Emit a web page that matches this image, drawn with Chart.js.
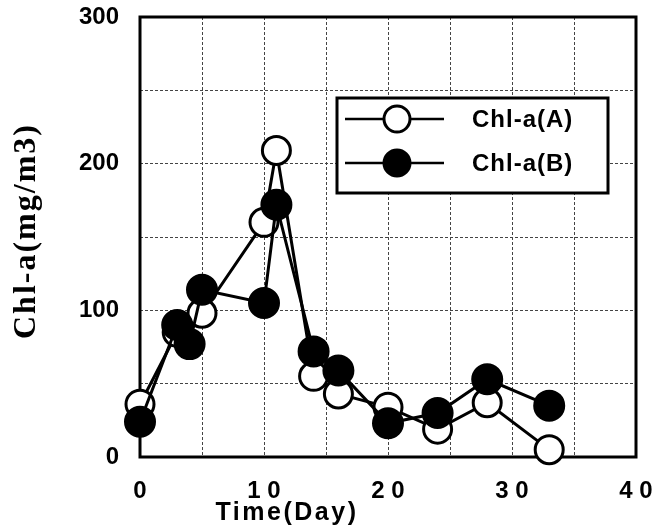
<!DOCTYPE html>
<html>
<head>
<meta charset="utf-8">
<script src="https://cdn.jsdelivr.net/npm/chart.js@4.4.1/dist/chart.umd.min.js"></script>
<style>
  body { margin: 0; background: #fff; }
  canvas { display: block; }
</style>
</head>
<body>
<canvas id="chl" width="653" height="526"></canvas>
<script>
// values
const daysA = [0, 3, 5, 10, 11, 14, 16, 20, 24, 28, 33];
const chlA  = [36, 85, 98, 160, 209, 55, 43, 34, 19, 37, 5];
const daysB = [0, 3, 4, 5, 10, 11, 14, 16, 20, 24, 28, 33];
const chlB  = [24, 90, 77, 114, 105, 172, 72, 59, 23, 30, 53, 35];
const seriesNames = ["Chl-a(A)", "Chl-a(B)"];
const xTickLabels = {0: "0", 10: "1 0", 20: "2 0", 30: "3 0", 40: "4 0"};
const yTickLabels = {0: "0", 100: "100", 200: "200", 300: "300"};
const xTitle = "Time(Day)";
const yTitle = "Chl-a(mg/m3)";

const pts = (xs, ys) => xs.map((x, i) => ({x: x, y: ys[i]}));

// frame round the plot, drawn under the data
const frame = {
  id: "frame",
  beforeDatasetsDraw(chart) {
    const a = chart.chartArea, ctx = chart.ctx;
    ctx.save();
    ctx.strokeStyle = "#000";
    ctx.lineWidth = 3;
    ctx.strokeRect(a.left, a.top, a.right - a.left, a.bottom - a.top);
    ctx.restore();
  }
};

// legend box inside the plot + axis titles
const extras = {
  id: "extras",
  afterDraw(chart) {
    const ctx = chart.ctx;
    ctx.save();
    ctx.fillStyle = "#fff";
    ctx.fillRect(337, 98, 271, 95);
    ctx.strokeStyle = "#000";
    ctx.lineWidth = 3;
    ctx.strokeRect(337, 98, 271, 95);
    seriesNames.forEach((name, i) => {
      const ds = chart.data.datasets.find(d => d.label === name);
      const y = 119 + i * 44;
      ctx.beginPath();
      ctx.moveTo(345, y);
      ctx.lineTo(444, y);
      ctx.lineWidth = 2.5;
      ctx.strokeStyle = "#000";
      ctx.stroke();
      ctx.beginPath();
      ctx.arc(397, y, 13, 0, Math.PI * 2);
      ctx.fillStyle = ds.pointBackgroundColor;
      ctx.fill();
      ctx.lineWidth = 3;
      ctx.stroke();
      ctx.fillStyle = "#000";
      ctx.font = "bold 24px 'Liberation Sans', Arial, sans-serif";
      ctx.letterSpacing = "1px";
      ctx.textBaseline = "middle";
      ctx.textAlign = "left";
      ctx.fillText(name, 472, y + 1);
      ctx.letterSpacing = "0px";
    });
    // x title
    ctx.font = "bold 25px 'Liberation Sans', Arial, sans-serif";
    ctx.letterSpacing = "2.5px";
    ctx.textAlign = "center";
    ctx.textBaseline = "alphabetic";
    ctx.fillText(xTitle, 287, 520);
    // y title
    ctx.translate(27, 231);
    ctx.rotate(-Math.PI / 2);
    ctx.font = "bold 32px 'Liberation Serif', 'Times New Roman', serif";
    ctx.letterSpacing = "2px";
    ctx.textBaseline = "middle";
    ctx.fillText(yTitle, 0, 0);
    ctx.restore();
  }
};

new Chart(document.getElementById("chl"), {
  type: "scatter",
  data: {
    datasets: [
      {
        label: seriesNames[1],
        data: pts(daysB, chlB),
        showLine: true,
        borderColor: "#000",
        borderWidth: 3,
        pointRadius: 15,
        pointBorderWidth: 2,
        pointBackgroundColor: "#000",
        pointBorderColor: "#000",
        clip: false,
        order: 1
      },
      {
        label: seriesNames[0],
        data: pts(daysA, chlA),
        showLine: true,
        borderColor: "#000",
        borderWidth: 3,
        pointRadius: 14,
        pointBorderWidth: 3,
        pointBackgroundColor: "#fff",
        pointBorderColor: "#000",
        clip: false,
        order: 2
      }
    ]
  },
  options: {
    responsive: false,
    animation: false,
    layout: { padding: { left: 0, top: 17, right: 16, bottom: 0 } },
    plugins: { legend: { display: false }, tooltip: { enabled: false } },
    scales: {
      x: {
        type: "linear",
        min: 0, max: 40,
        afterFit(s) { s.height = 69; s.paddingLeft = 0; s.paddingRight = 0; },
        border: { display: false, dash: [3, 2] },
        grid: { color: "#444", lineWidth: 1, drawTicks: false },
        ticks: {
          stepSize: 5,
          padding: 20,
          color: "#000",
          maxRotation: 0,
          font: { family: "'Liberation Sans', Arial, sans-serif", size: 24, weight: "bold" },
          callback: v => xTickLabels[v] !== undefined ? xTickLabels[v] : ""
        }
      },
      y: {
        min: 0, max: 300,
        afterFit(s) { s.width = 140; s.paddingTop = 0; s.paddingBottom = 0; },
        border: { display: false, dash: [3, 2] },
        grid: { color: "#444", lineWidth: 1, drawTicks: false },
        ticks: {
          stepSize: 50,
          padding: 21,
          color: "#000",
          font: { family: "'Liberation Sans', Arial, sans-serif", size: 24, weight: "bold" },
          callback: v => yTickLabels[v] !== undefined ? yTickLabels[v] : ""
        }
      }
    }
  },
  plugins: [frame, extras]
});
</script>
</body>
</html>
